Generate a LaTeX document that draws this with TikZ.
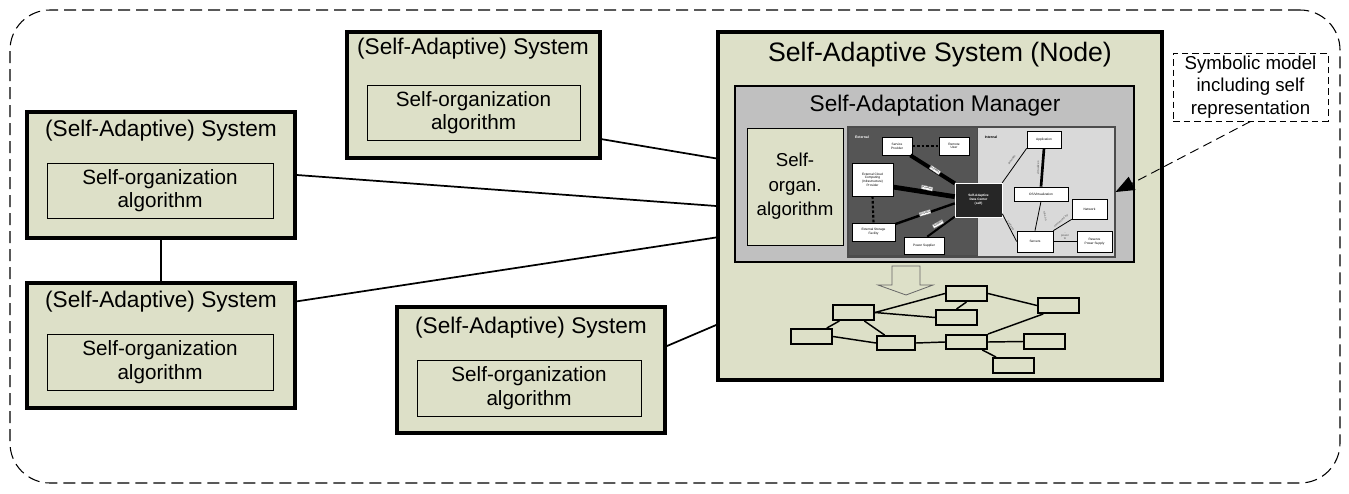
\documentclass[tikz,border=0pt]{standalone}
\usepackage{fontspec}
\setmainfont{Liberation Sans}
\usetikzlibrary{fit,arrows.meta}

\definecolor{sage}{RGB}{221,224,200}
\definecolor{mgrgray}{RGB}{192,192,192}
\definecolor{extgray}{RGB}{85,85,85}
\definecolor{intgray}{RGB}{217,217,217}
\definecolor{selfblk}{RGB}{38,38,38}

\begin{document}
\begin{tikzpicture}[x=0.75pt,y=-0.75pt,
  sysbox/.style={draw, line width=2.8pt, fill=sage, inner sep=0pt},
  algbox/.style={draw, line width=0.6pt, fill=sage, inner sep=0pt},
  ttl/.style={font=\fontsize{17}{20}\selectfont, inner sep=0pt},
  algtxt/.style={font=\fontsize{15.5}{17.5}\selectfont, align=center, inner sep=0pt},
  link/.style={line width=1.3pt},
  tiny/.style={font=\fontsize{2.4}{2.8}\selectfont, align=center, inner sep=0pt},
  wbox/.style={draw, line width=0.5pt, fill=white, inner sep=0pt},
  elab/.style={draw=gray, line width=0.2pt, fill=white, font=\fontsize{2}{2.2}\selectfont, inner sep=0.5pt},
  ilab/.style={font=\fontsize{2.2}{2.4}\selectfont, text=black!65, inner sep=0.3pt},
  gbox/.style={draw, line width=1.5pt, fill=sage, inner sep=0pt},
  gline/.style={line width=1.1pt}
]
\useasboundingbox (0,0) rectangle (1349,493);

% outer dashed container
\node[draw, line width=0.8pt, dash pattern=on 9pt off 4.5pt, rounded corners=30pt, inner sep=0pt, fit={(10,10)(1340,483)}] (outer) {};

% (Self-Adaptive) System A (top middle)
\node[sysbox, fit={(347,32)(600,158)}] (sysA) {};
\node[ttl] (sysAt) at (473,49) {(Self-Adaptive) System};
\node[algbox, fit={(367,85)(580,140)}] (algA) {};
\node[algtxt] (algAt) at (algA.center) {Self-organization\\algorithm};

% System B (left upper)
\node[sysbox, fit={(27,112)(295,238)}] (sysB) {};
\node[ttl] (sysBt) at (161,131) {(Self-Adaptive) System};
\node[algbox, fit={(47,163)(273,218)}] (algB) {};
\node[algtxt] (algBt) at (algB.center) {Self-organization\\algorithm};

% System C (left lower)
\node[sysbox, fit={(27,283)(295,408)}] (sysC) {};
\node[ttl] (sysCt) at (161,302) {(Self-Adaptive) System};
\node[algbox, fit={(47,334)(273,390)}] (algC) {};
\node[algtxt] (algCt) at (algC.center) {Self-organization\\algorithm};

% System D (bottom middle)
\node[sysbox, fit={(397,307)(665,433)}] (sysD) {};
\node[ttl] (sysDt) at (531,328) {(Self-Adaptive) System};
\node[algbox, fit={(417,360)(641,416)}] (algD) {};
\node[algtxt] (algDt) at (algD.center) {Self-organization\\algorithm};

% Main node
\node[draw, line width=2.6pt, fill=sage, inner sep=0pt, fit={(718,32)(1162,380)}] (main) {};
\node[font=\fontsize{20}{24}\selectfont, inner sep=0pt] (maint) at (940,55) {Self-Adaptive System (Node)};

% Manager
\node[draw, line width=0.8pt, fill=mgrgray, inner sep=0pt, fit={(735,86)(1134,262)}] (mgr) {};
\node[font=\fontsize{17}{20}\selectfont, inner sep=0pt] (mgrt) at (935,106) {Self-Adaptation Manager};
\node[algbox, fit={(747,128)(843,245)}] (sorg) {};
\node[algtxt, font=\fontsize{14}{18.5}\selectfont] (sorgt) at (sorg.center) {Self-\\organ.\\algorithm};

% Small embedded diagram: panels
\node[draw=black!70, line width=0.8pt, fill=intgray, inner sep=0pt, fit={(848,127)(1115,257)}] (intpanel) {};
\node[draw=black!70, line width=0.6pt, fill=extgray, inner sep=0pt, fit={(848,127)(977,255)}] (extpanel) {};
\node[tiny, text=white, font=\bfseries\fontsize{2.6}{3}\selectfont] (extl) at (862,137) {External};
\node[tiny, font=\bfseries\fontsize{2.6}{3}\selectfont] (intl) at (991,137) {Internal};

% external boxes
\node[wbox, fit={(882,137)(912,155)}] (sp) {};
\node[tiny] at (sp.center) {Service\\Provider};
\node[wbox, fit={(939,137)(969,155)}] (ru) {};
\node[tiny] at (ru.center) {Remote\\User};
\node[wbox, fit={(852,163)(893,196)}] (cloud) {};
\node[tiny] at (cloud.center) {External Cloud\\Computing\\(Infrastructure)\\Provider};
\node[wbox, fit={(852,223)(895,241)}] (stor) {};
\node[tiny] at (stor.center) {External Storage\\Facility};
\node[wbox, fit={(904,237)(944,254)}] (pows) {};
\node[tiny] at (pows.center) {Power Supplier};
\node[draw=white, line width=0.4pt, fill=selfblk, inner sep=0pt, fit={(955,183)(1002,217)}] (self) {};
\node[tiny, text=white, font=\bfseries\fontsize{2.4}{2.9}\selectfont] at (self.center) {Self-Adaptive\\Data Center\\(self)};

% internal boxes
\node[wbox, fit={(1027,131)(1061,148)}] (app) {};
\node[tiny] at (app.center) {Application};
\node[wbox, fit={(1014,187)(1068,201)}] (os) {};
\node[tiny] at (os.center) {OS/Virtualization};
\node[wbox, fit={(1072,199)(1107,219)}] (net) {};
\node[tiny] at (net.center) {Network};
\node[wbox, fit={(1017,231)(1053,252)}] (srv) {};
\node[tiny] at (srv.center) {Servers};
\node[wbox, fit={(1077,231)(1112,252)}] (rps) {};
\node[tiny] at (rps.center) {Reserve\\Power Supply};

% external relations
\draw[line width=1.6pt, dash pattern=on 2pt off 1.5pt] (sp.east) -- (ru.west);
\draw[line width=1.6pt, dash pattern=on 2pt off 1.5pt] (cloud.south) -- (stor.north);
\draw[line width=3pt] (sp.-35) -- (self.145);
\draw[line width=3.6pt] (cloud.-20) -- (self.172);
\draw[line width=1.8pt] (stor.20) -- (self.-172);
\draw[line width=1.5pt] (pows.70) -- (self.-145);
\node[elab, rotate=-33.7] (l1) at (935,170) {provides};
\node[elab, rotate=-12.7] (l2) at (927,188) {provides};
\node[elab, rotate=16.7] (l3) at (925,213) {provides};
\node[elab, rotate=29] (l4) at (938,224) {supplies};

% internal relations
\draw[line width=0.6pt] (self.north east) -- (app.south west);
\draw[line width=2pt] (app.south) -- (os.north);
\draw[line width=0.6pt] (os.south) -- (srv.north);
\draw[line width=0.6pt] (self.-30) -- (srv.west);
\draw[line width=0.6pt] (srv.north east) -- (net.south west);
\draw[line width=0.6pt] (srv.east) -- (rps.west);
\node[ilab, rotate=55] (l5) at (1012,160) {provides};
\node[ilab, rotate=90] (l6) at (1038,168) {virtualizes};
\node[ilab, rotate=-80] (l7) at (1045,216) {runs on};
\node[ilab, rotate=-60] (l8) at (1011,226) {contains};
\node[ilab, rotate=40] (l9) at (1061,221) {connected by};
\node[ilab, align=center] (l10) at (1065,236) {-\\power\\to};

% block arrow
\draw[draw=black!60, line width=0.6pt, fill=sage] (892,266) -- (920,266) -- (920,285) -- (933,285) -- (906,295) -- (878,285) -- (892,285) -- cycle;

% resulting graph
\node[gbox, fit={(946,286)(987,301)}] (g1) {};
\node[gbox, fit={(1038,298)(1079,313)}] (g2) {};
\node[gbox, fit={(833,305)(874,320)}] (g3) {};
\node[gbox, fit={(936,310)(977,325)}] (g4) {};
\node[gbox, fit={(791,329)(832,344)}] (g5) {};
\node[gbox, fit={(877,336)(915,350)}] (g6) {};
\node[gbox, fit={(946,335)(987,349)}] (g7) {};
\node[gbox, fit={(1024,334)(1065,349)}] (g8) {};
\node[gbox, fit={(993,358)(1034,373)}] (g9) {};
\draw[gline] (g3.east) -- (g1.west);
\draw[gline] (g3.east) -- (g4.west);
\draw[gline] (g1.south) -- (g4.north);
\draw[gline] (g1.east) -- (g2.west);
\draw[gline] (g3.-149) -- (g5.29);
\draw[gline] (g3.-38) -- (g6.145);
\draw[gline] (g5.east) -- (g6.west);
\draw[gline] (g6.east) -- (g7.west);
\draw[gline] (g7.north east) -- (g2.-151);
\draw[gline] (g7.east) -- (g8.west);
\draw[gline] (g7.-27) -- (g9.154);

% connectors between systems
\draw[link] (sysA.-19.6) -- (main.168.3);
\draw[link] (sysB.east) -- (main.180);
\draw[link] (sysB.south) -- (sysC.north);
\draw[link] (sysC.18.75) -- (main.-172.1);
\draw[link] (sysD.10.6) -- (main.-152.2);

% symbolic model annotation
\node[draw, line width=0.7pt, dash pattern=on 5pt off 3pt, inner sep=0pt, fit={(1173,53)(1328,121)}] (sym) {};
\node[font=\fontsize{14}{17}\selectfont, align=center, inner sep=0pt] (symt) at (sym.center) {Symbolic model\\including self\\representation};
\draw[line width=0.7pt, dash pattern=on 7pt off 4pt, -{Triangle[length=14pt,width=11pt]}] (sym.south) -- (intpanel.east);
\end{tikzpicture}
\end{document}
